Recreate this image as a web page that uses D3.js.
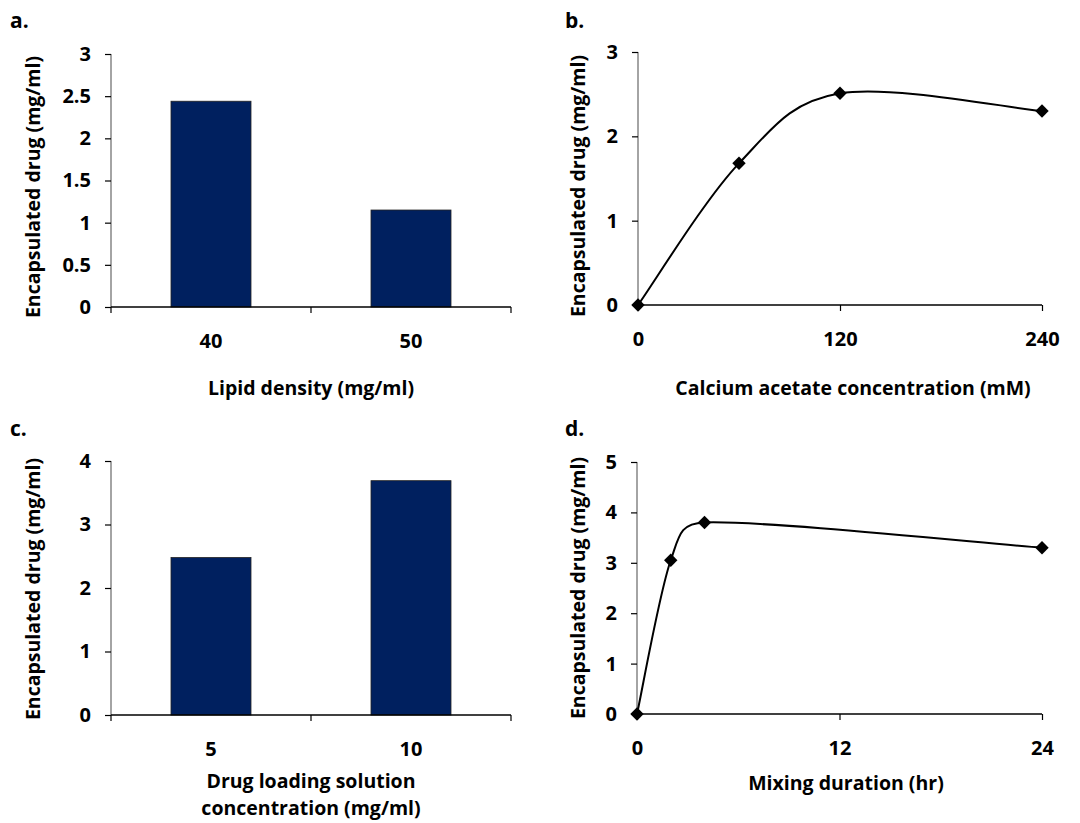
<!DOCTYPE html>
<html>
<head>
<meta charset="utf-8">
<script src="https://cdn.jsdelivr.net/npm/d3@7"></script>
<style>
  html, body { margin: 0; padding: 0; background: #ffffff; }
  svg text { font-family: "Open Sans", "Noto Sans", sans-serif; font-weight: 700; fill: #000; }
</style>
</head>
<body>
<svg id="chart" width="1080" height="823"></svg>
<script>
// ---------------- data ----------------
const aCategories = ["40", "50"];
const aValues = [2.44, 1.15];
const aYTicks = [0, 0.5, 1, 1.5, 2, 2.5, 3];

const bX = [0, 60, 120, 240];
const bY = [0, 1.68, 2.51, 2.30];
const bXTicks = [0, 120, 240];
const bYTicks = [0, 1, 2, 3];

const cCategories = ["5", "10"];
const cValues = [2.48, 3.69];
const cYTicks = [0, 1, 2, 3, 4];

const dX = [0, 2, 4, 24];
const dY = [0, 3.05, 3.8, 3.3];
const dXTicks = [0, 12, 24];
const dYTicks = [0, 1, 2, 3, 4, 5];

const yTitle = "Encapsulated drug (mg/ml)";
const aXTitle = ["Lipid density (mg/ml)"];
const bXTitle = ["Calcium acetate concentration (mM)"];
const cXTitle = ["Drug loading solution", "concentration (mg/ml)"];
const dXTitle = ["Mixing duration (hr)"];

// ---------------- spreadsheet-style smoothed curve for d3.line ----------------
function SmoothCurve(context) { this._context = context; }
SmoothCurve.prototype = {
  areaStart() { this._line = 0; },
  areaEnd() { this._line = NaN; },
  lineStart() { this._pts = []; },
  point(x, y) { this._pts.push([+x, +y]); },
  lineEnd() {
    const p = this._pts, c = this._context, n = p.length;
    if (!n) return;
    c.moveTo(p[0][0], p[0][1]);
    if (n === 1) return;
    const dist = (a, b) => Math.hypot(b[0] - a[0], b[1] - a[1]);
    for (let i = 0; i < n - 1; i++) {
      const P0 = p[i - 1] || p[i], P1 = p[i], P2 = p[i + 1], P3 = p[i + 2] || p[i + 1];
      const half = dist(P1, P2) / 2;
      let a1 = [(P2[0] - P0[0]) / 6, (P2[1] - P0[1]) / 6];
      let a2 = [(P3[0] - P1[0]) / 6, (P3[1] - P1[1]) / 6];
      const l1 = Math.hypot(a1[0], a1[1]), l2 = Math.hypot(a2[0], a2[1]);
      if (l1 > half) a1 = [a1[0] * half / l1, a1[1] * half / l1];
      if (l2 > half) a2 = [a2[0] * half / l2, a2[1] * half / l2];
      c.bezierCurveTo(P1[0] + a1[0], P1[1] + a1[1], P2[0] - a2[0], P2[1] - a2[1], P2[0], P2[1]);
    }
  }
};
const curveSmooth = ctx => new SmoothCurve(ctx);

// ---------------- drawing ----------------
const svg = d3.select("#chart");
const BAR = "#00205f";
const AXIS_GRAY = "#868686";
const FS_TICK = 20;
const FS_TITLE = 19.5;

function frame(g, p, yScale, yTicks, letter, xTitleLines) {
  g.append("text").attr("x", p.letterX).attr("y", p.letterY)
    .attr("font-size", 21).text(letter);
  const ya = d3.axisLeft(yScale).tickValues(yTicks).tickSize(6).tickPadding(14)
    .tickFormat(d => String(d));
  const yg = g.append("g").attr("transform", `translate(${p.x0},0)`).call(ya);
  yg.select(".domain").attr("stroke", AXIS_GRAY).attr("stroke-width", 1.5)
    .attr("d", `M0,${p.y0}V${p.y1}`);
  yg.selectAll(".tick line").attr("stroke", "#000").attr("stroke-width", 1.2);
  yg.selectAll(".tick text").attr("font-size", FS_TICK).attr("font-family", null);
  g.append("text")
    .attr("transform", `translate(${p.yTitleX},${p.yTitleY}) rotate(-90)`)
    .attr("text-anchor", "middle").attr("dominant-baseline", "central")
    .attr("font-size", FS_TITLE).text(yTitle);
  xTitleLines.forEach((t, i) => {
    g.append("text").attr("x", p.xTitleX).attr("y", p.xTitleY + i * 27)
      .attr("text-anchor", "middle").attr("dominant-baseline", "central")
      .attr("font-size", FS_TITLE).text(t);
  });
}

function barPanel(p, cats, vals, yTicks, letter, titleLines) {
  const g = svg.append("g");
  const x = d3.scaleBand().domain(cats).range([p.x0, p.x1]).paddingInner(0.6).paddingOuter(0.3);
  const y = d3.scaleLinear().domain([0, d3.max(yTicks)]).range([p.y0, p.y1]);
  g.selectAll("rect.bar").data(vals).join("rect").attr("class", "bar")
    .attr("x", (d, i) => x(cats[i])).attr("width", x.bandwidth())
    .attr("y", d => y(d)).attr("height", d => y(0) - y(d))
    .attr("fill", BAR).attr("stroke", "#222").attr("stroke-width", 0.8);
  frame(g, p, y, yTicks, letter, titleLines);
  const boundaries = d3.range(cats.length + 1).map(i => p.x0 + (p.x1 - p.x0) * i / cats.length);
  const xg = g.append("g");
  xg.append("line").attr("x1", p.x0).attr("x2", p.x1).attr("y1", y(0)).attr("y2", y(0))
    .attr("stroke", "#000").attr("stroke-width", 1.5);
  xg.selectAll("line.tk").data(boundaries).join("line").attr("class", "tk")
    .attr("x1", d => d).attr("x2", d => d).attr("y1", y(0)).attr("y2", y(0) + 6)
    .attr("stroke", "#000").attr("stroke-width", 1.2);
  xg.selectAll("text.tl").data(cats).join("text").attr("class", "tl")
    .attr("x", d => x(d) + x.bandwidth() / 2).attr("y", p.xLabelY)
    .attr("text-anchor", "middle").attr("dominant-baseline", "central")
    .attr("font-size", FS_TICK).text(d => d);
}

function linePanel(p, xs, ys, xTicks, yTicks, letter, titleLines) {
  const g = svg.append("g");
  const x = d3.scaleLinear().domain([0, d3.max(xTicks)]).range([p.x0, p.x1]);
  const y = d3.scaleLinear().domain([0, d3.max(yTicks)]).range([p.y0, p.y1]);
  frame(g, p, y, yTicks, letter, titleLines);
  const xa = d3.axisBottom(x).tickValues(xTicks).tickSize(6).tickPadding(0).tickFormat(d => String(d));
  const xg = g.append("g").attr("transform", `translate(0,${y(0)})`).call(xa);
  xg.select(".domain").attr("stroke", "#000").attr("stroke-width", 1.5)
    .attr("d", `M${p.x0},0H${p.x1}`);
  xg.selectAll(".tick line").attr("stroke", "#000").attr("stroke-width", 1.2);
  xg.selectAll(".tick text").attr("font-size", FS_TICK).attr("font-family", null)
    .attr("y", p.xLabelY - y(0)).attr("dy", null).attr("dominant-baseline", "central");
  const pts = xs.map((v, i) => [x(v), y(ys[i])]);
  g.append("path").attr("d", d3.line().curve(curveSmooth)(pts))
    .attr("fill", "none").attr("stroke", "#000").attr("stroke-width", 2);
  const sym = d3.symbol().type(d3.symbolSquare).size(90);
  g.selectAll("path.mk").data(pts).join("path").attr("class", "mk")
    .attr("d", sym).attr("transform", d => `translate(${d[0]},${d[1]}) rotate(45)`)
    .attr("fill", "#000");
}

barPanel({x0: 111, x1: 511, y0: 307, y1: 54, letterX: 10, letterY: 28,
          yTitleX: 32, yTitleY: 187, xTitleX: 311, xTitleY: 387, xLabelY: 340},
         aCategories, aValues, aYTicks, "a.", aXTitle);
linePanel({x0: 638, x1: 1042, y0: 305, y1: 52, letterX: 565, letterY: 28,
           yTitleX: 577, yTitleY: 186, xTitleX: 853, xTitleY: 387, xLabelY: 338},
          bX, bY, bXTicks, bYTicks, "b.", bXTitle);
barPanel({x0: 111, x1: 511, y0: 715, y1: 461, letterX: 10, letterY: 436,
          yTitleX: 32, yTitleY: 589, xTitleX: 311, xTitleY: 780, xLabelY: 748},
         cCategories, cValues, cYTicks, "c.", cXTitle);
linePanel({x0: 637, x1: 1042, y0: 714, y1: 462, letterX: 565, letterY: 436,
           yTitleX: 577, yTitleY: 588, xTitleX: 846, xTitleY: 782, xLabelY: 747},
          dX, dY, dXTicks, dYTicks, "d.", dXTitle);
</script>
</body>
</html>
